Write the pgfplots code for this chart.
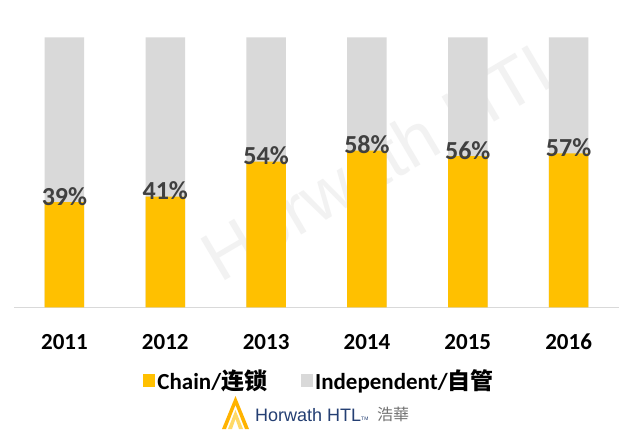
\documentclass[border=0pt]{standalone}
\usepackage{pgfplots}
\pgfplotsset{compat=1.18}
\usepackage{pgfplotstable}
\usepackage{fontspec}
\setmainfont{Carlito}
\newfontfamily\cjk{Noto Sans CJK SC}
\newfontfamily\cjktc{Noto Sans CJK TC}
\newfontfamily\lib{Liberation Sans}
\definecolor{chain}{HTML}{FFC000}
\definecolor{indep}{HTML}{D9D9D9}
\definecolor{lbl}{HTML}{404040}
\definecolor{navy}{HTML}{243F73}
\pgfplotstableread{
x chain indep
0 39 100
1 41 100
2 54 100
3 58 100
4 56 100
5 57 100
}\data
\begin{document}
\begin{tikzpicture}[x=1pt,y=1pt]
\fill[white] (0,0) rectangle (634,429);
\node[rotate=30.5, text=black!5, font=\lib\fontsize{70}{70}\selectfont] at (385,272) {Horwath HTL};
\begin{axis}[
  at={(14pt,121.7pt)}, anchor=south west,
  scale only axis, width=605pt, height=270pt,
  xmin=-0.5, xmax=5.5, ymin=0, ymax=100,
  ybar, bar width=39.5pt, bar shift=0pt,
  axis line style={draw=none}, tick style={draw=none},
  ytick=\empty,
  /pgf/number format/assume math mode=true,
  xtick=data, xticklabels={2011,2012,2013,2014,2015,2016},
  xticklabel style={font=\bfseries\fontsize{23}{23}\selectfont, anchor=center, yshift=-30pt},
  legend style={at={(0.505,-0.27)}, anchor=center, draw=none, fill=none,
    legend columns=2, font=\bfseries\fontsize{23}{23}\selectfont,
    /tikz/every even column/.style={column sep=32pt},
    legend cell align=left},
  reverse legend,
  legend image code/.code={\path[#1, draw=none] (0pt,-6.5pt) rectangle (12pt,6.5pt);},
]
\draw[indep, line width=1pt] (rel axis cs:0,0) -- (rel axis cs:1,0);
\addplot[fill=indep, draw=none] table[x=x, y=indep] {\data};
\addlegendentry{Independent/{\cjk 自管}}
\addplot[fill=chain, draw=none,
  nodes near coords={\pgfmathprintnumber[assume math mode=true]{\pgfplotspointmeta}\%},
  every node near coord/.append style={font=\bfseries\fontsize{26}{26}\selectfont, text=lbl, anchor=base, yshift=-3pt, inner sep=0pt}
] table[x=x, y=chain] {\data};
\addlegendentry{Chain/{\cjk 连锁}}
\end{axis}
% logo
\fill[chain!80!orange] (222,0) -- (235.5,33) -- (249,0) -- (245,0) -- (235.5,24) -- (226,0) -- cycle;
\fill[chain!60!white] (228,0) -- (235.5,19) -- (243,0) -- (239,0) -- (235.5,10) -- (232,0) -- cycle;
\node[anchor=west, inner sep=0pt, text=navy, font=\lib\fontsize{18}{18}\selectfont] at (255,14) {Horwath HTL\raisebox{-1pt}{\fontsize{5}{5}\selectfont\textsuperscript{TM}}};
\node[anchor=west, inner sep=0pt, text=black!55, font=\cjktc\fontsize{16}{16}\selectfont] at (377,15) {浩華};
\end{tikzpicture}
\end{document}
